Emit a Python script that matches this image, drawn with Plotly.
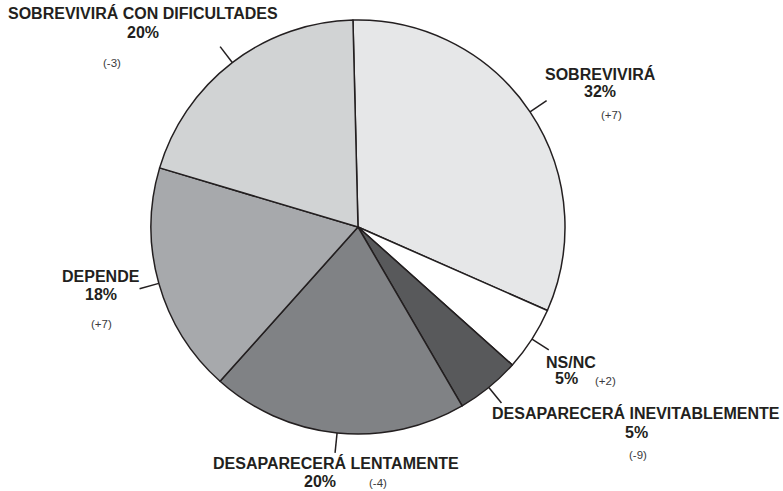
import math
import plotly.graph_objects as go

# slices, clockwise from 12 o'clock
labels = ["SOBREVIVIRÁ", "NS/NC", "DESAPARECERÁ INEVITABLEMENTE",
          "DESAPARECERÁ LENTAMENTE", "DEPENDE", "SOBREVIVIRÁ CON DIFICULTADES"]
values = [32, 5, 5, 20, 18, 20]
changes = ["(+7)", "(+2)", "(-9)", "(-4)", "(+7)", "(-3)"]
colors = ["#e6e7e8", "#ffffff", "#58595b", "#808285", "#a7a9ac", "#d1d3d4"]

W, H = 783, 491
CX, CY, R = 358, 227, 207
ROT = -1.4
INK = "#231f20"

# label placement (pixel centres): name, percent, change
name_pos = [(600, 74), (571, 362), (636, 413), (336, 463), (101, 276), (143, 13)]
pct_pos = [(600, 92), (566, 378), (636, 432), (320, 481), (101, 294), (143, 32)]
chg_pos = [(611, 115), (605, 381), (638, 455), (378, 483), (101, 324), (112, 63)]

fig = go.Figure(go.Pie(
    labels=labels,
    values=values,
    sort=False,
    direction="clockwise",
    rotation=ROT,
    textinfo="none",
    hoverinfo="label+percent",
    marker=dict(colors=colors, line=dict(color=INK, width=1.5)),
    domain=dict(x=[(CX - R) / W, (CX + R) / W], y=[1 - (CY + R) / H, 1 - (CY - R) / H]),
    showlegend=False,
))


def px(x, y):
    return x / W, 1 - y / H


total = sum(values)
cum = 0
for i, v in enumerate(values):
    # leader line sits on the slice's middle angle
    mid = (cum + v / 2) / total * 360 + ROT
    cum += v
    a = math.radians(mid)
    x0, y0 = px(CX + R * math.sin(a), CY - R * math.cos(a))
    x1, y1 = px(CX + (R + 20) * math.sin(a), CY - (R + 20) * math.cos(a))
    fig.add_shape(type="line", xref="paper", yref="paper", x0=x0, y0=y0, x1=x1, y1=y1,
                  line=dict(color=INK, width=1.5))

    for pos, txt, size, bold in [(name_pos[i], labels[i], 16, True),
                                 (pct_pos[i], f"{v}%", 16, True),
                                 (chg_pos[i], changes[i], 11.5, False)]:
        ax, ay = px(*pos)
        fig.add_annotation(
            x=ax, y=ay, xref="paper", yref="paper", showarrow=False,
            text=f"<b>{txt}</b>" if bold else txt,
            xanchor="center", yanchor="middle",
            font=dict(family="Liberation Sans, Arial, sans-serif", size=size,
                      color=INK if bold else "#3a3a3c"),
        )

fig.update_layout(
    width=W, height=H,
    margin=dict(l=0, r=0, t=0, b=0),
    paper_bgcolor="white",
    plot_bgcolor="white",
)

fig.write_html("out.html", config={"displayModeBar": False},
               post_script="document.body.style.margin='0';")
